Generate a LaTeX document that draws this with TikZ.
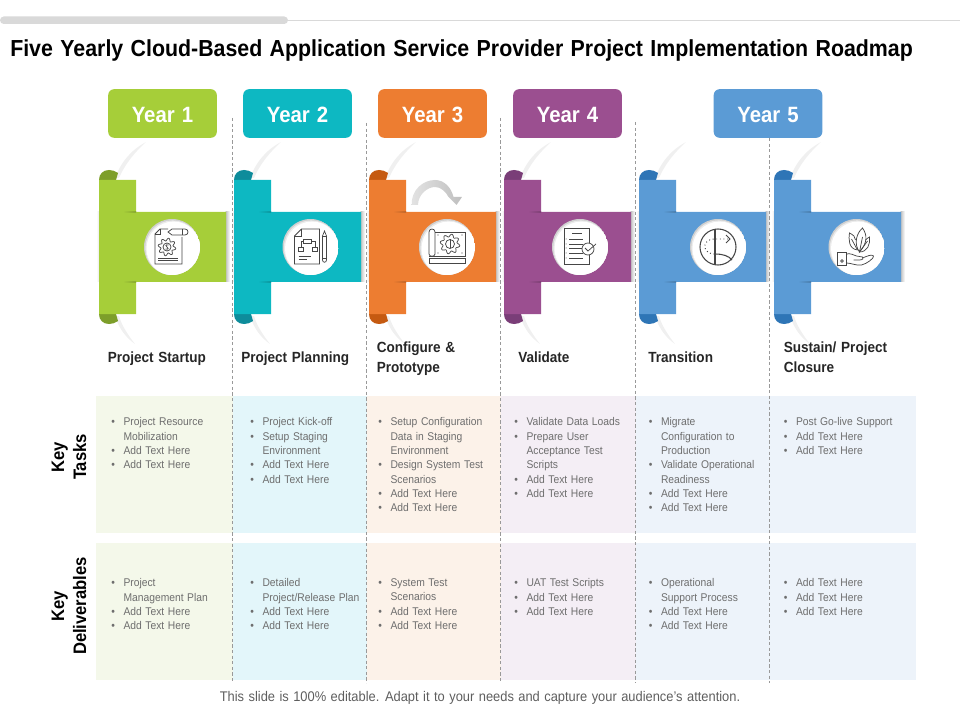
\documentclass[tikz,border=0pt]{standalone}
\usepackage{fontspec}
\setmainfont[FakeStretch=0.92, WordSpace=1.25]{Liberation Sans}
\usetikzlibrary{arrows.meta, positioning, calc}
\definecolor{yrGreen}{RGB}{166, 206, 57}
\definecolor{yrTeal}{RGB}{13, 184, 194}
\definecolor{yrOrange}{RGB}{237, 125, 49}
\definecolor{yrPurple}{RGB}{155, 79, 144}
\definecolor{yrBlue}{RGB}{91, 155, 213}
\definecolor{capGreen}{RGB}{125, 158, 42}
\definecolor{capTeal}{RGB}{14, 140, 155}
\definecolor{capOrange}{RGB}{197, 90, 17}
\definecolor{capPurple}{RGB}{122, 62, 120}
\definecolor{capBlue}{RGB}{46, 117, 182}
\definecolor{cellGreen}{RGB}{244, 248, 234}
\definecolor{cellTeal}{RGB}{227, 246, 250}
\definecolor{cellOrange}{RGB}{252, 242, 233}
\definecolor{cellPurple}{RGB}{244, 238, 245}
\definecolor{cellBlue}{RGB}{237, 243, 250}
\definecolor{txtDark}{RGB}{38, 38, 38}
\definecolor{txtGray}{RGB}{110, 110, 110}
\definecolor{icoGray}{RGB}{70, 70, 70}
\newcommand{\bl}{\makebox[9.2pt][l]{•}}
\newcommand{\ct}{\hspace*{9.2pt}}
\newcommand{\st}{\rule[-2.8pt]{0pt}{10pt}}
\newcommand{\gearpath}[3]{\draw[domain=0:360, samples=97, variable=\t, shift={(#1,#2)}]
  plot ({(#3+1.4*sin(8*\t))*cos(\t)}, {(#3+1.4*sin(8*\t))*sin(\t)}) -- cycle;}

\begin{document}
\begin{tikzpicture}[
      x=0.75pt, y=-0.75pt,
      yearbox/.style = {rounded corners=4.5pt, minimum width=81.5pt, minimum height=36.5pt,
                        inner sep=0pt, text=white, text height=14pt, text depth=0pt,
                        font=\fontsize{16.6}{20}\selectfont\bfseries},
      stagelabel/.style = {anchor=west, inner sep=0pt, align=left, text=txtDark,
                        font=\fontsize{11.05}{14.5}\selectfont\bfseries},
      rowlabel/.style = {rotate=90, inner sep=0pt, align=center, text=black,
                        font=\fontsize{13.55}{16.5}\selectfont\bfseries},
      cellitems/.style = {anchor=north west, inner sep=0pt, align=left, text=txtGray,
                        font=\fontsize{8.4}{10.75}\selectfont},
      divider/.style = {dash pattern=on 2.4pt off 1.8pt, gray!80, line width=0.45pt},
      ico/.style = {draw=icoGray, line width=0.55pt},
      iconstartup/.pic = {
        \begin{scope}[ico]
          \draw (-4,-18) -- (-12,-18) -- (-17,-13) -- (-17,17) -- (10,17) -- (10,-10);
          \draw (-12,-18) -- (-12,-13) -- (-17,-13);
          \draw[fill=white] (-4,-15) -- (0,-18) -- (13,-18) .. controls (17,-18) and (17,-12) .. (13,-12) -- (0,-12) -- cycle;
          \draw (10,-18) -- (10,-12);
          \gearpath{-5}{0}{7.5}
          \draw (-5,0) circle (4);
          \draw (-3.5,-2) .. controls (-6.5,-3) and (-7,-0.5) .. (-5,0) .. controls (-3,0.5) and (-3.5,3) .. (-6.5,2);
          \draw (-14,11) -- (6,11);
          \draw (-14,13.5) -- (6,13.5);
        \end{scope}
      },
      iconplanning/.pic = {
        \begin{scope}[ico]
          \draw (-9,-18) -- (9,-18) -- (9,17) -- (-16,17) -- (-16,-11) -- cycle;
          \draw (-9,-18) -- (-9,-11) -- (-16,-11);
          \draw (-7,-8) rectangle (1,-4);
          \draw (-12,0) rectangle (-7,4);
          \draw (2,0) rectangle (7,4);
          \draw (-7,-6) -| (-9.5,0);
          \draw (1,-6) -| (4.5,0);
          \draw (-12,9) -- (0,9);
          \draw (-12,12) -- (-4,12);
          \draw (12,-11) -- (14,-16) -- (16,-11) -- (16,13) .. controls (16,16) and (12,16) .. (12,13) -- cycle;
          \draw (12,-11) -- (16,-11);
          \draw (12,11) -- (16,11);
        \end{scope}
      },
      iconprototype/.pic = {
        \begin{scope}[ico]
          \draw (-12,-15) -- (18,-15) -- (18,9) -- (-18,9);
          \draw (-18,7) -- (-18,-15) .. controls (-18,-19) and (-12,-19) .. (-12,-15) -- (-12,7) .. controls (-12,10) and (-18,10) .. (-18,7);
          \gearpath{3}{-3}{8.5}
          \draw (3,-3) circle (4.5);
          \draw (3,-7.5) -- (3,1.5);
          \draw (-18,11) rectangle (18,16);
          \foreach \tk in {-15,-12.5,...,15}{\draw (\tk,11) -- (\tk,12.5);}
          \foreach \dx/\dy in {-9/-12,15/-12,-9/6,15/6}{\fill[icoGray] (\dx,\dy) circle (0.6);}
        \end{scope}
      },
      iconvalidate/.pic = {
        \begin{scope}[ico]
          \draw (-16,-19) rectangle (9,17);
          \draw (-8,-14) -- (2,-14);
          \foreach \ly in {-8,-3,1,6,11}{
            \draw (-11,\ly) -- (3,\ly);
            \fill[icoGray] (-14,\ly) circle (0.5);
          }
          \draw[fill=white] (8,2) circle (6);
          \draw (5,1) -- (8,4) -- (16,-3);
        \end{scope}
      },
      icontransition/.pic = {
        \begin{scope}[ico]
          \draw[line width=0.8pt] (0,0) circle (18);
          \draw[line width=0.8pt] (-3,-18) -- (-3,18);
          \draw[line width=0.8pt] (-3,7) .. controls (5,7) and (11,9) .. (14,13);
          \draw[dotted, line width=0.7pt] (10,-8) -- (-3,-8) .. controls (-11,-8) and (-14,-3) .. (-13,1) .. controls (-12,5) and (-8,7) .. (-3,7);
          \draw[line width=0.6pt] (8,-12) -- (12,-8) -- (8,-4);
        \end{scope}
      },
      iconclosure/.pic = {
        \begin{scope}[ico]
          \draw (-19,5) rectangle (-10,18);
          \draw (-14.5,14) circle (1.3);
          \draw (-10,7) .. controls (-6,6) and (-3,8) .. (0,9) -- (6,10) .. controls (8,11) and (6,13) .. (3,13) -- (-3,13);
          \draw (6,11) .. controls (11,9) and (15,7) .. (17,9) .. controls (18,11) and (10,17) .. (5,18) .. controls (0,19) and (-5,16) .. (-10,16);
          \draw (3,5) .. controls (-3,-3) and (0,-14) .. (6,-19) .. controls (11,-12) and (11,-4) .. (3,5) -- (6,-10);
          \draw (1,3) .. controls (-8,2) and (-8,-8) .. (-7,-14) .. controls (-3,-12) and (-1,-10) .. (-1,-7);
          \draw (1,3) -- (-5,-8);
          \draw (3,5) .. controls (11,5) and (14,-3) .. (13,-10) .. controls (11,-9) and (10,-8) .. (9,-7);
          \draw (3,5) -- (11,-6);
        \end{scope}
      },
    ]
    \useasboundingbox (0,0) rectangle (960,720);
    %% ── Top rule and title ─────────────────────────────────────
    \draw[gray!30, line width=0.6pt] (288,20.5) -- (960,20.5);
    \fill[gray!30, rounded corners=2.8pt] (0,16.5) rectangle (288,24);
    \node (title) [anchor=west, inner sep=0pt, text=black,
                    font=\fontsize{17.4}{21}\selectfont\bfseries] at (10,50.5)
      {Five Yearly Cloud-Based Application Service Provider Project Implementation Roadmap};
    %% ── Cell backgrounds ───────────────────────────────────────
    \foreach \xa/\xb/\cellc in {96/232.5/cellGreen, 232.5/366.5/cellTeal, 366.5/500.5/cellOrange,
                                500.5/635.5/cellPurple, 635.5/916/cellBlue}{
      \fill[\cellc] (\xa,396) rectangle (\xb,533);
      \fill[\cellc] (\xa,543) rectangle (\xb,680);
    }
    %% ── Ribbons ────────────────────────────────────────────────
    \foreach \sx/\cx/\bandc/\capc in {99/73/yrGreen/capGreen, 234/76.5/yrTeal/capTeal,
                                      369/78/yrOrange/capOrange, 504/76/yrPurple/capPurple,
                                      639/79/yrBlue/capBlue, 774/82.5/yrBlue/capBlue}{
      \begin{scope}[shift={(\sx,0)}]
        % soft arcs behind the ribbon
        \fill[gray!12] (16,178) .. controls (22,162) and (32,150) .. (47,142)
                       .. controls (36,152) and (26,164) .. (20,178) -- cycle;
        \fill[gray!12] (16,316) .. controls (20,328) and (26,337) .. (36,344)
                       .. controls (29,335) and (23,326) .. (20,316) -- cycle;
        % shadows
        \shade[left color=gray!50, right color=white] (126.5,212) rectangle (131,282);
        \shade[left color=white, right color=gray!18] (-2.5,212) rectangle (0,282);
        % folded ends
        \fill[\capc] (0,180) .. controls (0,174) and (4,170) .. (10,170)
                     .. controls (13,170) and (16,171) .. (19,173) -- (17,180) -- cycle;
        \fill[\capc] (0,314) .. controls (0,320) and (4,324) .. (10,324)
                     .. controls (13,324) and (16,323) .. (19,321) -- (17,314) -- cycle;
        % band
        \fill[\bandc] (0,180) -| (37,212) -| (127,282) -| (37,314) -| (0,180) -- cycle;
        \shade[left color=\bandc, right color=\bandc!82!black] (24,211.6) rectangle (37,212.4);
        \shade[left color=\bandc, right color=\bandc!82!black] (24,281.6) rectangle (37,282.4);
        % disc
        \begin{scope}
          \clip (\cx,247) circle (28);
          \fill[gray!38] (\cx,247) circle (28);
          \fill[gray!16] (\cx+0.7,247.8) circle (27.4);
          \fill[white] (\cx+1.5,248.6) circle (27);
        \end{scope}
      \end{scope}
    }
    %% ── Icons ──────────────────────────────────────────────────
    \pic at (172,247) {iconstartup};
    \pic at (310.5,247) {iconplanning};
    \pic at (447,247) {iconprototype};
    \pic at (580,247) {iconvalidate};
    \pic at (718,247) {icontransition};
    \pic at (856.5,247) {iconclosure};
    %% ── Curved arrow over Year 3 ribbon ────────────────────────
    \shade[left color=gray!22, right color=gray!50]
      (411.7,205) .. controls (411,190) and (423,180) .. (435,180)
      .. controls (444,180) and (451,187) .. (453.5,197) -- (462,197) -- (456.5,205) -- (448.5,197)
      .. controls (446,192) and (441,187) .. (435,187)
      .. controls (427,187) and (418,195) .. (418,205) -- cycle;
    %% ── Year boxes ─────────────────────────────────────────────
    \node (y1) [yearbox, fill=yrGreen] at (162.5,113.5) {Year 1};
    \node (y2) [yearbox, fill=yrTeal] at (297.5,113.5) {Year 2};
    \node (y3) [yearbox, fill=yrOrange] at (432.5,113.5) {Year 3};
    \node (y4) [yearbox, fill=yrPurple] at (567.5,113.5) {Year 4};
    \node (y5) [yearbox, fill=yrBlue] at (768,113.5) {Year 5};
    %% ── Stage labels ───────────────────────────────────────────
    \node (s1) [stagelabel] at (107.5,359.5) {\st Project Startup};
    \node (s2) [stagelabel] at (241,359.5) {\st Project Planning};
    \node (s3) [stagelabel] at (376.5,359) {\st Configure \&\\\st Prototype};
    \node (s4) [stagelabel] at (518,359.5) {\st Validate};
    \node (s5) [stagelabel] at (648,359.5) {\st Transition};
    \node (s6) [stagelabel] at (783.5,359) {\st Sustain/ Project\\\st Closure};
    %% ── Row labels ─────────────────────────────────────────────
    \node (r1) [rowlabel] at (69,457) {Key\\Tasks};
    \node (r2) [rowlabel] at (69,606) {Key\\Deliverables};
    %% ── Key tasks ──────────────────────────────────────────────
    \node (t1) [cellitems] at (111,417.5) {\bl Project Resource\\\ct Mobilization\\\bl Add Text Here\\\bl Add Text Here};
    \node (t2) [cellitems] at (250,417.5) {\bl Project Kick-off\\\bl Setup Staging\\\ct Environment\\\bl Add Text Here\\\bl Add Text Here};
    \node (t3) [cellitems] at (378,417.5) {\bl Setup Configuration\\\ct Data in Staging\\\ct Environment\\\bl Design System Test\\\ct Scenarios\\\bl Add Text Here\\\bl Add Text Here};
    \node (t4) [cellitems] at (514,417.5) {\bl Validate Data Loads\\\bl Prepare User\\\ct Acceptance Test\\\ct Scripts\\\bl Add Text Here\\\bl Add Text Here};
    \node (t5) [cellitems] at (648.5,417.5) {\bl Migrate\\\ct Configuration to\\\ct Production\\\bl Validate Operational\\\ct Readiness\\\bl Add Text Here\\\bl Add Text Here};
    \node (t6) [cellitems] at (783.5,417.5) {\bl Post Go-live Support\\\bl Add Text Here\\\bl Add Text Here};
    %% ── Key deliverables ───────────────────────────────────────
    \node (d1) [cellitems] at (111,578.5) {\bl Project\\\ct Management Plan\\\bl Add Text Here\\\bl Add Text Here};
    \node (d2) [cellitems] at (250,578.5) {\bl Detailed\\\ct Project/Release Plan\\\bl Add Text Here\\\bl Add Text Here};
    \node (d3) [cellitems] at (378,578.5) {\bl System Test\\\ct Scenarios\\\bl Add Text Here\\\bl Add Text Here};
    \node (d4) [cellitems] at (514,578.5) {\bl UAT Test Scripts\\\bl Add Text Here\\\bl Add Text Here};
    \node (d5) [cellitems] at (648.5,578.5) {\bl Operational\\\ct Support Process\\\bl Add Text Here\\\bl Add Text Here};
    \node (d6) [cellitems] at (783.5,578.5) {\bl Add Text Here\\\bl Add Text Here\\\bl Add Text Here};
    %% ── Dashed dividers ────────────────────────────────────────
    \foreach \dx/\dtop in {232.5/118, 366.5/123, 500.5/118, 635.5/122, 769/138}{
      \draw[divider] (\dx,\dtop) -- (\dx,683);
    }
    %% ── Footer ─────────────────────────────────────────────────
    \node (foot) [anchor=center, inner sep=0pt, text=txtGray!85!black,
                  font=\fontsize{10.5}{12}\selectfont] at (480,697.5)
      {This slide is 100\% editable. Adapt it to your needs and capture your audience's attention.};
  \end{tikzpicture}
\end{document}
